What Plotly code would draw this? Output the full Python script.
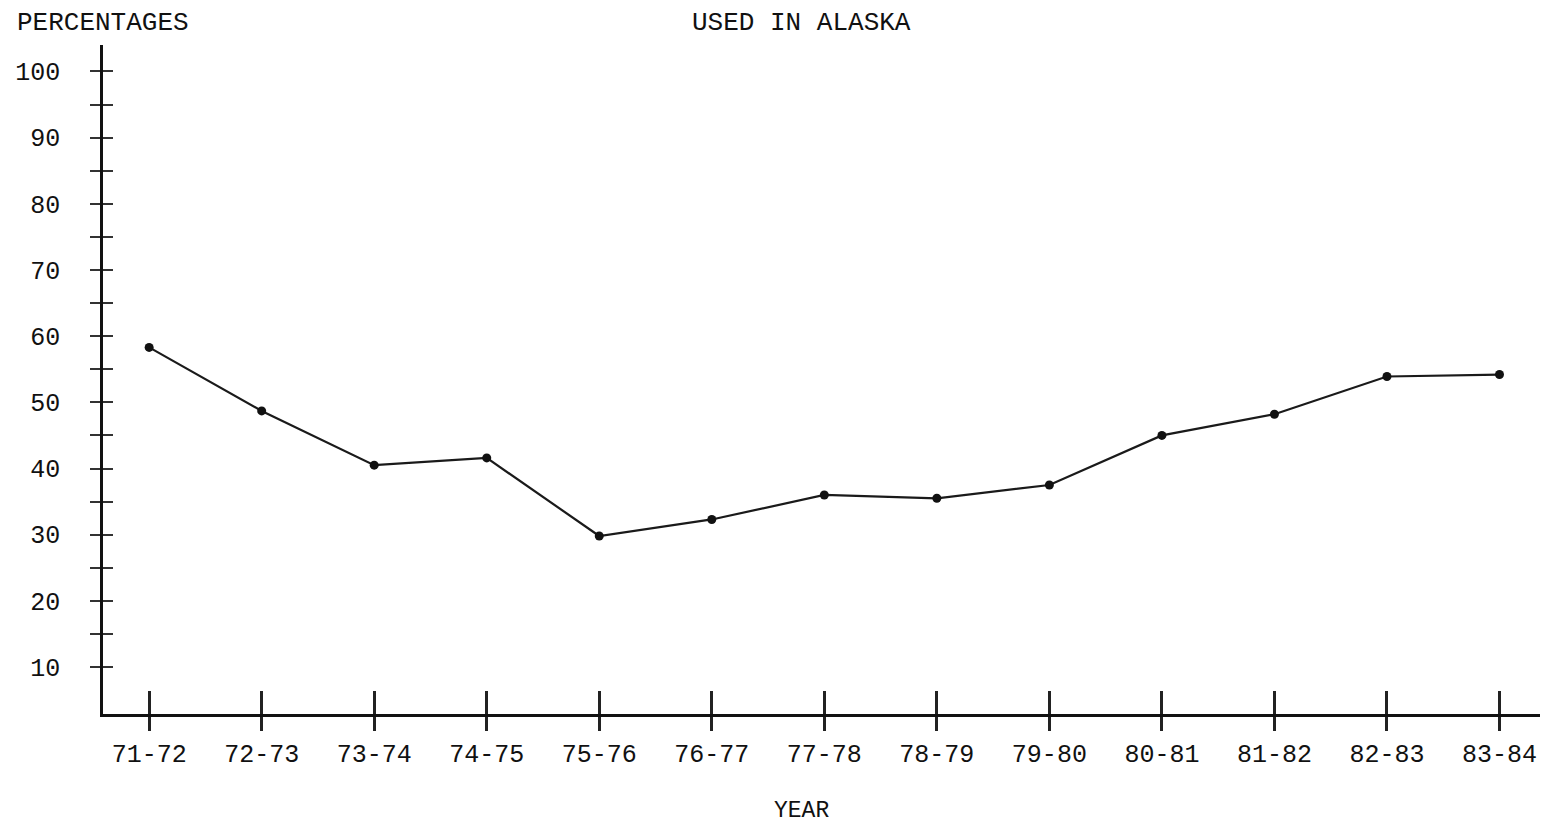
import plotly.graph_objects as go

years = ["71-72", "72-73", "73-74", "74-75", "75-76", "76-77", "77-78",
         "78-79", "79-80", "80-81", "81-82", "82-83", "83-84"]
percentages = [58.3, 48.7, 40.5, 41.6, 29.8, 32.3, 36.0, 35.5, 37.5, 45.0, 48.2, 53.9, 54.2]
ytick_vals = list(range(10, 101, 5))
ytick_text = [str(v) if v % 10 == 0 else "" for v in ytick_vals]

FONT = "Liberation Mono, Courier New, monospace"
xr = [-0.41, 12.36]
yr = [2.9, 104]

fig = go.Figure()
fig.add_trace(go.Scatter(
    x=years, y=percentages, mode="lines+markers",
    line=dict(color="#1a1a1a", width=2.2),
    marker=dict(color="#111111", size=9),
    showlegend=False, hoverinfo="x+y",
))
# invisible trace to carry the overlay axes (crossing ticks)
fig.add_trace(go.Scatter(
    x=years, y=percentages, mode="markers", xaxis="x2", yaxis="y2",
    marker=dict(size=1, opacity=0), showlegend=False, hoverinfo="skip",
))

fig.update_layout(
    width=1542, height=828,
    margin=dict(l=103, r=2, t=45, b=114, autoexpand=False),
    paper_bgcolor="white", plot_bgcolor="white",
    font=dict(family=FONT, size=25, color="#111111"),
    xaxis=dict(
        type="category", categoryorder="array", categoryarray=years,
        range=xr, showgrid=False, zeroline=False, automargin=False,
        showline=True, linecolor="#111111", linewidth=2.5,
        ticks="outside", ticklen=14, tickwidth=2.5, tickcolor="#222222",
        ticklabelstandoff=1,
        tickfont=dict(family=FONT, size=25, color="#111111"),
    ),
    xaxis2=dict(
        type="category", categoryorder="array", categoryarray=years,
        overlaying="x", anchor="y2", side="bottom", range=xr, automargin=False,
        showgrid=False, zeroline=False, showline=False,
        ticks="inside", ticklen=23, tickwidth=2.5, tickcolor="#222222",
        showticklabels=False,
    ),
    yaxis=dict(
        range=yr, showgrid=False, zeroline=False, automargin=False,
        showline=True, linecolor="#111111", linewidth=2.5,
        tickmode="array", tickvals=ytick_vals, ticktext=ytick_text,
        ticks="outside", ticklen=10, tickwidth=2, tickcolor="#333333",
        ticklabelstandoff=25,
        tickfont=dict(family=FONT, size=25, color="#111111"),
    ),
    yaxis2=dict(
        range=yr, overlaying="y", anchor="x2", side="left", automargin=False,
        showgrid=False, zeroline=False, showline=False,
        tickmode="array", tickvals=ytick_vals,
        ticks="inside", ticklen=10, tickwidth=2, tickcolor="#333333",
        showticklabels=False,
    ),
    annotations=[
        dict(text="USED IN ALASKA", xref="paper", yref="paper",
             x=(801 - 103) / 1437, y=(714 - 23) / 669,
             xanchor="center", yanchor="middle", showarrow=False,
             font=dict(family=FONT, size=26, color="#111111")),
        dict(text="PERCENTAGES", xref="paper", yref="paper",
             x=(15 - 103) / 1437, y=(714 - 23) / 669,
             xanchor="left", yanchor="middle", showarrow=False,
             font=dict(family=FONT, size=26, color="#111111")),
        dict(text="YEAR", xref="paper", yref="paper",
             x=(801 - 103) / 1437, y=-(811 - 714) / 669,
             xanchor="center", yanchor="middle", showarrow=False,
             font=dict(family=FONT, size=23, color="#111111")),
    ],
)

fig.write_html(
    "out.html",
    config={"displayModeBar": False},
    post_script="document.body.style.margin='0';document.body.style.overflow='hidden';",
)
